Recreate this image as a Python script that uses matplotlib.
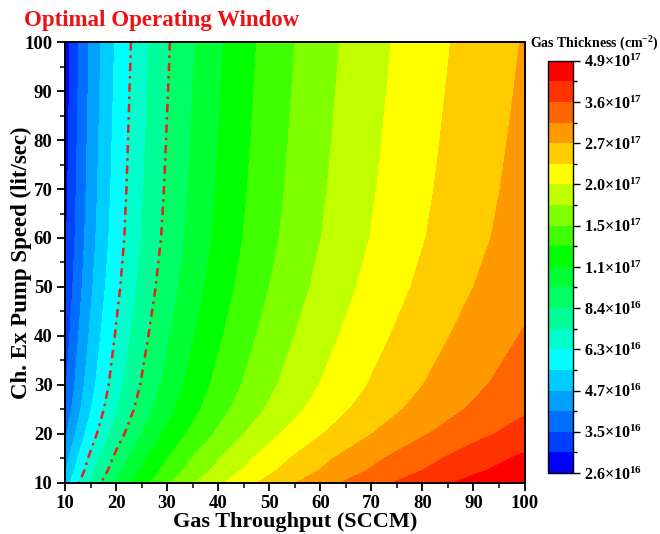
import numpy as np
import matplotlib
matplotlib.use("Agg")
import matplotlib.pyplot as plt
from matplotlib.ticker import MultipleLocator

# ---------------- data ----------------
throughput = [10, 20, 30, 40, 50, 60, 70, 80, 90, 100]          # SCCM
pump_speed = [10, 12.5, 15, 20, 25, 30, 40, 50, 60, 70, 80, 90, 100]  # lit/sec

# gas thickness, units of 1e16 cm^-2, one row per pump speed
thickness_e16 = [
    [4.92, 9.85, 14.77, 19.69, 24.61, 29.54, 34.46, 39.38, 44.31, 49.23],  # S=10
    [4.57, 9.13, 13.70, 18.26, 22.83, 27.39, 31.96, 36.52, 41.09, 45.65],  # S=12.5
    [4.34, 8.69, 13.03, 17.38, 21.72, 26.07, 30.41, 34.76, 39.10, 43.45],  # S=15
    [3.88, 7.76, 11.63, 15.51, 19.39, 23.27, 27.15, 31.02, 34.90, 38.78],  # S=20
    [3.58, 7.15, 10.73, 14.30, 17.88, 21.45, 25.03, 28.60, 32.18, 35.75],  # S=25
    [3.40, 6.79, 10.19, 13.59, 16.98, 20.38, 23.77, 27.17, 30.57, 33.96],  # S=30
    [3.19, 6.38, 9.57, 12.76, 15.95, 19.14, 22.33, 25.52, 28.71, 31.90],   # S=40
    [3.03, 6.05, 9.08, 12.10, 15.13, 18.15, 21.18, 24.20, 27.23, 30.25],   # S=50
    [2.92, 5.83, 8.75, 11.66, 14.58, 17.49, 20.41, 23.32, 26.24, 29.15],   # S=60
    [2.86, 5.72, 8.58, 11.44, 14.30, 17.16, 20.02, 22.88, 25.74, 28.60],   # S=70
    [2.82, 5.64, 8.46, 11.28, 14.09, 16.91, 19.73, 22.55, 25.37, 28.19],   # S=80
    [2.78, 5.57, 8.35, 11.13, 13.92, 16.70, 19.48, 22.26, 25.05, 27.83],   # S=90
    [2.75, 5.50, 8.25, 11.00, 13.75, 16.50, 19.25, 22.00, 24.75, 27.50],   # S=100
]

level_min = 2.6e16
level_max = 4.9e17
n_bands = 20
window_levels = [6.3e16, 8.4e16]   # optimal operating window boundaries

cbar_tick_labels = ["2.6×10$^{16}$", "3.5×10$^{16}$", "4.7×10$^{16}$", "6.3×10$^{16}$",
                    "8.4×10$^{16}$", "1.1×10$^{17}$", "1.5×10$^{17}$", "2.0×10$^{17}$",
                    "2.7×10$^{17}$", "3.6×10$^{17}$", "4.9×10$^{17}$"]

band_colors = ["#0000ff", "#0040ff", "#006eff", "#00a0ff", "#00cdff",
               "#00ffff", "#00ffcc", "#00ff99", "#00ff66", "#00ff33",
               "#00ff00", "#40ff00", "#80ff00", "#c0ff00", "#ffff00",
               "#ffcc00", "#ff9900", "#ff6600", "#ff3300", "#ff0000"]

# ---------------- style ----------------
plt.rcParams["font.family"] = ["Liberation Serif", "DejaVu Serif"]
plt.rcParams["font.weight"] = "bold"
plt.rcParams["mathtext.fontset"] = "custom"
plt.rcParams["mathtext.rm"] = "Liberation Serif:bold"
plt.rcParams["mathtext.bf"] = "Liberation Serif:bold"
plt.rcParams["mathtext.default"] = "bf"
plt.rcParams["lines.scale_dashes"] = False

fig = plt.figure(figsize=(6.6, 5.34), dpi=100)
ax = fig.add_axes([0.0985, 0.0963, 0.6962, 0.8245])

Z = np.array(thickness_e16) * 1e16
levels = np.geomspace(level_min, level_max, n_bands + 1)
cs = ax.contourf(throughput, pump_speed, np.clip(Z, levels[0], levels[-1]),
                 levels=levels, colors=band_colors)
cl = ax.contour(throughput, pump_speed, Z, levels=window_levels, colors="#e82020",
                linewidths=1.8)
cl.set_linestyle((0, (6, 3.5, 1.8, 3.5)))

ax.set_xlim(10, 100)
ax.set_ylim(10, 100)
ax.xaxis.set_major_locator(MultipleLocator(10))
ax.yaxis.set_major_locator(MultipleLocator(10))
ax.xaxis.set_minor_locator(MultipleLocator(5))
ax.yaxis.set_minor_locator(MultipleLocator(5))
ax.tick_params(which="major", direction="out", length=6, width=1.3, labelsize=13.5,
               top=False, right=False, pad=3)
ax.tick_params(which="minor", direction="out", length=3.5, width=1.1,
               top=False, right=False)
for lbl in ax.get_xticklabels() + ax.get_yticklabels():
    lbl.set_fontweight("bold")
for sp in ax.spines.values():
    sp.set_linewidth(1.4)

ax.set_xlabel("Gas Throughput (SCCM)", fontsize=16, fontweight="bold", labelpad=0)
ax.set_ylabel("Ch. Ex Pump Speed (lit/sec)", fontsize=16.5, fontweight="bold")
ax.yaxis.set_label_coords(-0.072, 0.5)

fig.text(0.037, 0.962, "Optimal Operating Window", color="#ee1111", fontsize=16.5,
         fontweight="bold", va="center", ha="left")

# ---------------- colorbar ----------------
cax = fig.add_axes([0.8303, 0.1142, 0.0379, 0.7721])
cb = fig.colorbar(cs, cax=cax)
cb.set_ticks(levels[::2])
cb.set_ticklabels(cbar_tick_labels)
cax.set_yticks(levels[1::2], minor=True)
cax.tick_params(which="major", direction="out", length=5, width=1.0, labelsize=11.5, pad=3)
cax.tick_params(which="minor", direction="out", length=3, width=1.0)
cb.outline.set_linewidth(1.0)
fig.text(0.9, 0.918, "Gas Thickness (cm$^{-2}$)", fontsize=10, fontweight="bold",
         ha="center", va="center")

fig.savefig("out.png", dpi=100)
